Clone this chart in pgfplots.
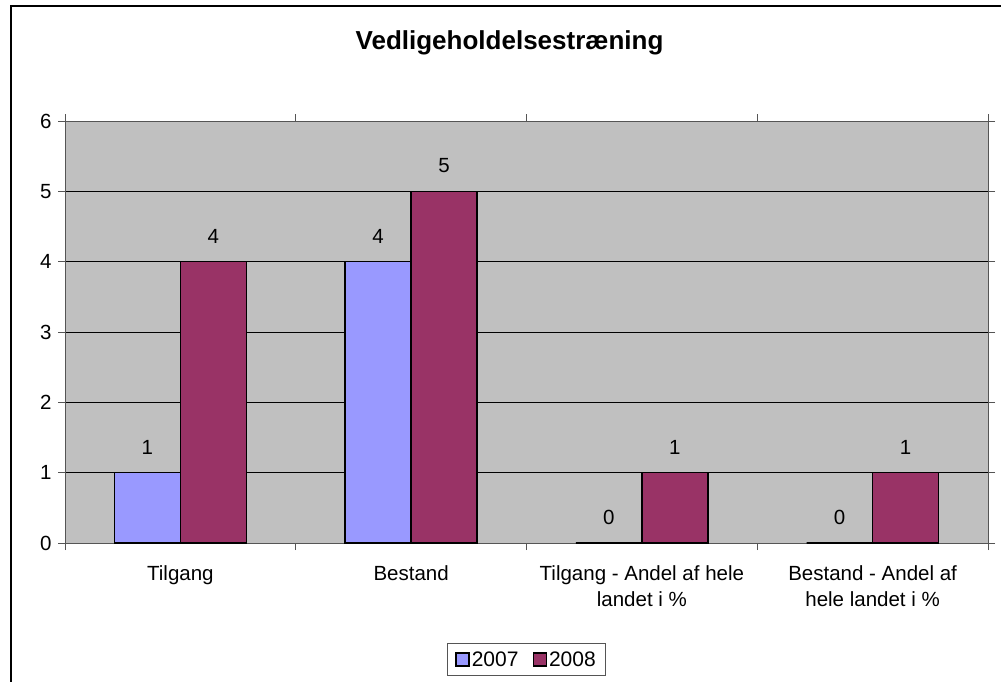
\documentclass[border=0pt]{standalone}
\usepackage{pgfplots}
\pgfplotsset{compat=1.18}
\usepackage{fontspec}
\setmainfont{Liberation Sans}
\definecolor{c07}{HTML}{9999FF}
\definecolor{c08}{HTML}{993366}
\definecolor{plotbg}{HTML}{C0C0C0}
\definecolor{axgray}{HTML}{555555}
\begin{document}
\begin{tikzpicture}[x=1pt,y=1pt]
\useasboundingbox (0,0) rectangle (1001,681);
\draw[black, line width=1.5pt] (11,-10) -- (11,675) -- (1011,675);
\node[font=\fontsize{26}{30}\selectfont\bfseries, anchor=base] at (509.5,631) {Vedligeholdelsestræning};
\begin{axis}[
  at={(65pt,138pt)}, anchor=south west,
  scale only axis, width=923pt, height=422pt,
  xmin=-0.5, xmax=3.5, ymin=0, ymax=6,
  ybar=0pt, bar width=66pt,
  axis background/.style={fill=plotbg},
  axis line style={draw=axgray, line width=1pt},
  ymajorgrids, grid style={black, line width=0.7pt},
  ytick={0,...,6},
  xtick={-0.5,0.5,1.5,2.5,3.5}, xticklabels={},
  extra x ticks={0,1,2,3},
  extra x tick labels={Tilgang, Bestand, {Tilgang - Andel af hele\\landet i \%}, {Bestand - Andel af\\hele landet i \%}},
  extra x tick style={major tick length=0pt, grid=none},
  tick align=outside, major tick length=7pt,
  tick style={draw=axgray, line width=1pt},
  x tick label style={align=center, font=\fontsize{20.5}{26}\selectfont, yshift=-19pt},
  y tick label style={font=\fontsize{20.5}{25}\selectfont, xshift=-3pt},
  /pgf/number format/assume math mode=true,
  nodes near coords,
  every node near coord/.append style={font=\fontsize{20.5}{25}\selectfont, anchor=south, inner sep=0pt, yshift=18pt},
  legend style={at={(0.5,-0.277)}, anchor=center, legend columns=2, draw=axgray, line width=1pt,
    font=\fontsize{21}{25}\selectfont, inner xsep=8pt, inner ysep=6pt,
    /tikz/every even column/.append style={column sep=12pt}},
  legend image code/.code={\draw[#1, draw=black, line width=1.5pt] (0pt,-6pt) rectangle (13pt,7pt);},
]
\addplot[fill=c07, draw=black, line width=1.3pt] coordinates {(0,1) (1,4) (2,0) (3,0)};
\addplot[fill=c08, draw=black, line width=1.3pt] coordinates {(0,4) (1,5) (2,1) (3,1)};
\legend{2007,2008}
\end{axis}
\end{tikzpicture}
\end{document}
